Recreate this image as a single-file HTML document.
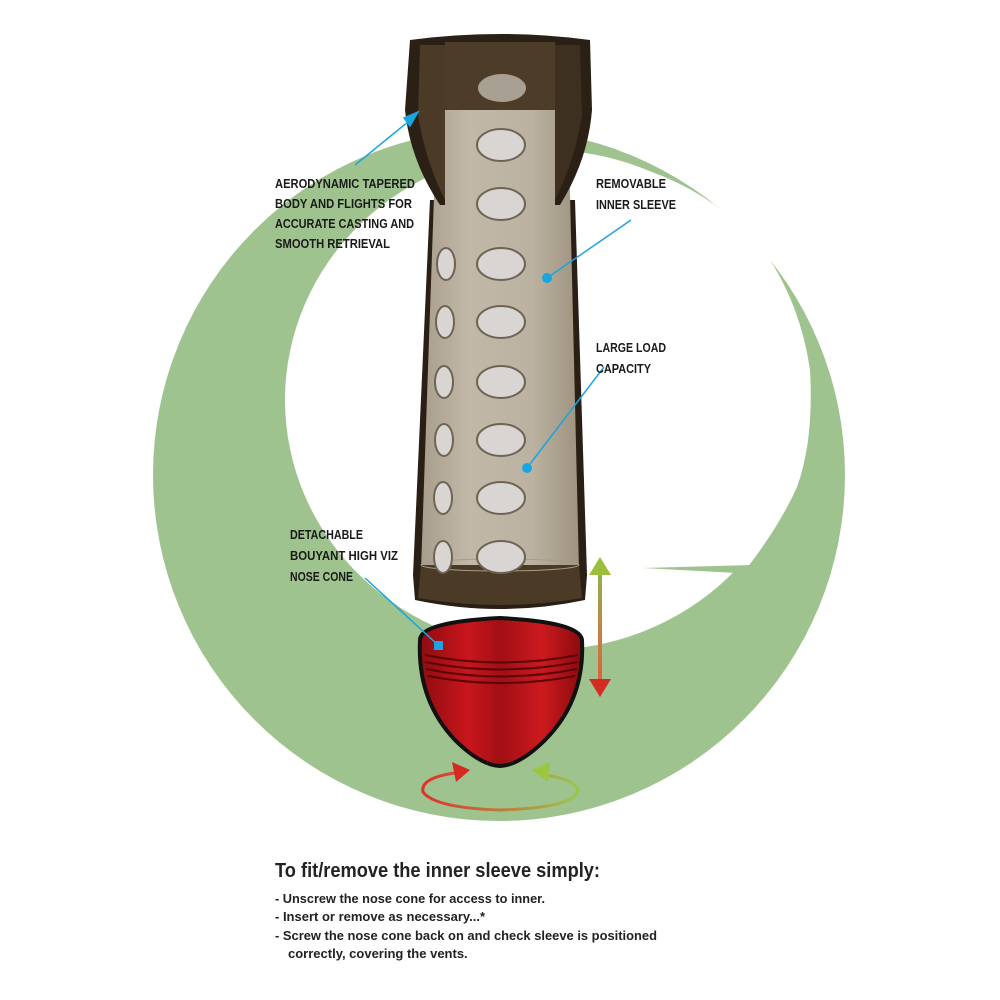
<!DOCTYPE html>
<html><head><meta charset="utf-8"><style>
html,body{margin:0;padding:0;background:#fff;width:1000px;height:1000px;overflow:hidden}
svg{display:block}
.lb{font-family:"Liberation Sans",sans-serif;font-weight:bold;font-size:12.5px;fill:#1a1a1a}
.bt{font-family:"Liberation Sans",sans-serif;font-weight:bold;fill:#222}
</style></head><body>
<svg width="1000" height="1000" viewBox="0 0 1000 1000" xmlns="http://www.w3.org/2000/svg">
<defs>
<linearGradient id="sl" x1="0" x2="1"><stop offset="0" stop-color="#a89d8b"/><stop offset="0.3" stop-color="#c2b8a8"/><stop offset="0.7" stop-color="#bcb2a1"/><stop offset="1" stop-color="#9e937f"/></linearGradient>
<linearGradient id="rd" x1="0" x2="1"><stop offset="0" stop-color="#8e0c10"/><stop offset="0.3" stop-color="#c8161c"/><stop offset="0.5" stop-color="#a10f14"/><stop offset="0.75" stop-color="#cc1a1f"/><stop offset="1" stop-color="#8a0a0e"/></linearGradient>
<linearGradient id="va" x1="0" y1="0" x2="0" y2="1"><stop offset="0" stop-color="#8fb34a"/><stop offset="1" stop-color="#e85a40"/></linearGradient>
<linearGradient id="ha" x1="0" x2="1"><stop offset="0" stop-color="#e0302a"/><stop offset="1" stop-color="#9cc64a"/></linearGradient>
</defs>
<!-- green swoosh -->
<circle cx="499" cy="475" r="346" fill="#9fc38e"/>
<ellipse cx="545" cy="400" rx="260" ry="250" fill="#fff"/>
<path d="M620,162 Q690,180 736,222 L760,245 Q800,300 810,370 Q814,440 797,487 Q780,525 747,568 L700,568 L600,300 Z" fill="#fff"/>
<polygon points="733,222 760,190 790,230 762,250" fill="#fff"/>
<polygon points="643,568 752,565 755,574" fill="#9fc38e"/>
<!-- rocket body -->
<path d="M430,200 L575,200 L587,575 L585,600 Q500,618 415,600 L413,575 Z" fill="#2a1f14"/>
<path d="M437,110 L568,110 L579,570 L421,570 Z" fill="url(#sl)"/>
<path d="M421,565 L579,565 L582,598 Q500,612 418,598 Z" fill="#4a3a26"/>
<ellipse cx="500" cy="565" rx="79" ry="6" fill="none" stroke="#a89c88" stroke-width="1"/>
<!-- top flights -->
<path d="M410,40 Q500,28 590,40 L592,110 Q588,160 560,205 L555,205 L555,108 L445,108 L445,205 L440,205 Q410,160 405,110 Z" fill="#2b2015"/>
<path d="M420,45 L445,45 L445,200 Q425,160 418,115 Z" fill="#4a3a26"/>
<path d="M555,45 L580,45 L582,115 Q575,160 555,200 Z" fill="#3e3020"/>
<rect x="445" y="42" width="110" height="68" fill="#4d3c27"/>
<ellipse cx="502" cy="88" rx="24" ry="14" fill="#a8a193"/>
<!-- holes -->
<g fill="#d8d5d2" stroke="#6e6455" stroke-width="2">
<ellipse cx="501" cy="145" rx="24" ry="16"/>
<ellipse cx="501" cy="204" rx="24" ry="16"/>
<ellipse cx="501" cy="264" rx="24" ry="16"/>
<ellipse cx="501" cy="322" rx="24" ry="16"/>
<ellipse cx="501" cy="382" rx="24" ry="16"/>
<ellipse cx="501" cy="440" rx="24" ry="16"/>
<ellipse cx="501" cy="498" rx="24" ry="16"/>
<ellipse cx="501" cy="557" rx="24" ry="16"/>
<ellipse cx="446" cy="264" rx="9" ry="16"/>
<ellipse cx="445" cy="322" rx="9" ry="16"/>
<ellipse cx="444" cy="382" rx="9" ry="16"/>
<ellipse cx="444" cy="440" rx="9" ry="16"/>
<ellipse cx="443" cy="498" rx="9" ry="16"/>
<ellipse cx="443" cy="557" rx="9" ry="16"/>
</g>
<!-- nose cone -->
<path d="M420,640 Q420,622 500,618 Q580,622 582,640 Q585,700 545,740 Q520,765 500,766 Q480,765 455,740 Q417,700 420,640 Z" fill="url(#rd)" stroke="#111" stroke-width="4"/>
<g fill="none" stroke="#5a0508" stroke-width="2">
<path d="M425,655 Q500,670 578,655"/><path d="M425,662 Q500,677 578,662"/><path d="M426,669 Q500,684 577,669"/><path d="M428,676 Q500,690 575,676"/>
</g>
<!-- vertical arrow -->
<rect x="598" y="570" width="4" height="115" fill="url(#va)"/>
<polygon points="600,557 589,575 611,575" fill="#9bbf3a"/>
<polygon points="600,697 589,679 611,679" fill="#d42a22"/>
<!-- rotation arrow -->
<path d="M455,773 Q420,778 423,792 Q435,808 500,810 Q570,808 578,792 Q578,780 545,775" fill="none" stroke="url(#ha)" stroke-width="3"/>
<polygon points="470,770 452,762 456,782" fill="#d42a22"/>
<polygon points="532,770 550,762 548,782" fill="#9bc640"/>
<!-- leaders -->
<g stroke="#1aa5e0" stroke-width="1.5" fill="#1aa5e0">
<line x1="355" y1="165" x2="414" y2="117"/><polygon points="418,112 404,118 410,126"/>
<line x1="631" y1="220" x2="547" y2="278"/><circle cx="547" cy="278" r="5" stroke="none"/>
<line x1="604" y1="367" x2="527" y2="468"/><circle cx="527" cy="468" r="5" stroke="none"/>
<line x1="365" y1="578" x2="438" y2="645"/><rect x="434" y="641" width="9" height="9" stroke="none"/>
</g>
<!-- labels -->
<g class="lb">
<text x="275" y="188" textLength="140" lengthAdjust="spacingAndGlyphs">AERODYNAMIC TAPERED</text>
<text x="275" y="208" textLength="137" lengthAdjust="spacingAndGlyphs">BODY AND FLIGHTS FOR</text>
<text x="275" y="228" textLength="139" lengthAdjust="spacingAndGlyphs">ACCURATE CASTING AND</text>
<text x="275" y="248" textLength="115" lengthAdjust="spacingAndGlyphs">SMOOTH RETRIEVAL</text>
<text x="596" y="188" textLength="70" lengthAdjust="spacingAndGlyphs">REMOVABLE</text>
<text x="596" y="209" textLength="80" lengthAdjust="spacingAndGlyphs">INNER SLEEVE</text>
<text x="596" y="352" textLength="70" lengthAdjust="spacingAndGlyphs">LARGE LOAD</text>
<text x="596" y="373" textLength="55" lengthAdjust="spacingAndGlyphs">CAPACITY</text>
<text x="290" y="539" textLength="73" lengthAdjust="spacingAndGlyphs">DETACHABLE</text>
<text x="290" y="560" textLength="108" lengthAdjust="spacingAndGlyphs">BOUYANT HIGH VIZ</text>
<text x="290" y="581" textLength="63" lengthAdjust="spacingAndGlyphs">NOSE CONE</text>
</g>
<g class="bt">
<text x="275" y="877" font-size="20" textLength="325" lengthAdjust="spacingAndGlyphs">To fit/remove the inner sleeve simply:</text>
<text x="275" y="903" font-size="13" textLength="270" lengthAdjust="spacingAndGlyphs">- Unscrew the nose cone for access to inner.</text>
<text x="275" y="921" font-size="13">- Insert or remove as necessary...*</text>
<text x="275" y="940" font-size="13" textLength="382" lengthAdjust="spacingAndGlyphs">- Screw the nose cone back on and check sleeve is positioned</text>
<text x="288" y="958" font-size="13">correctly, covering the vents.</text>
</g>
</svg>
</body></html>
